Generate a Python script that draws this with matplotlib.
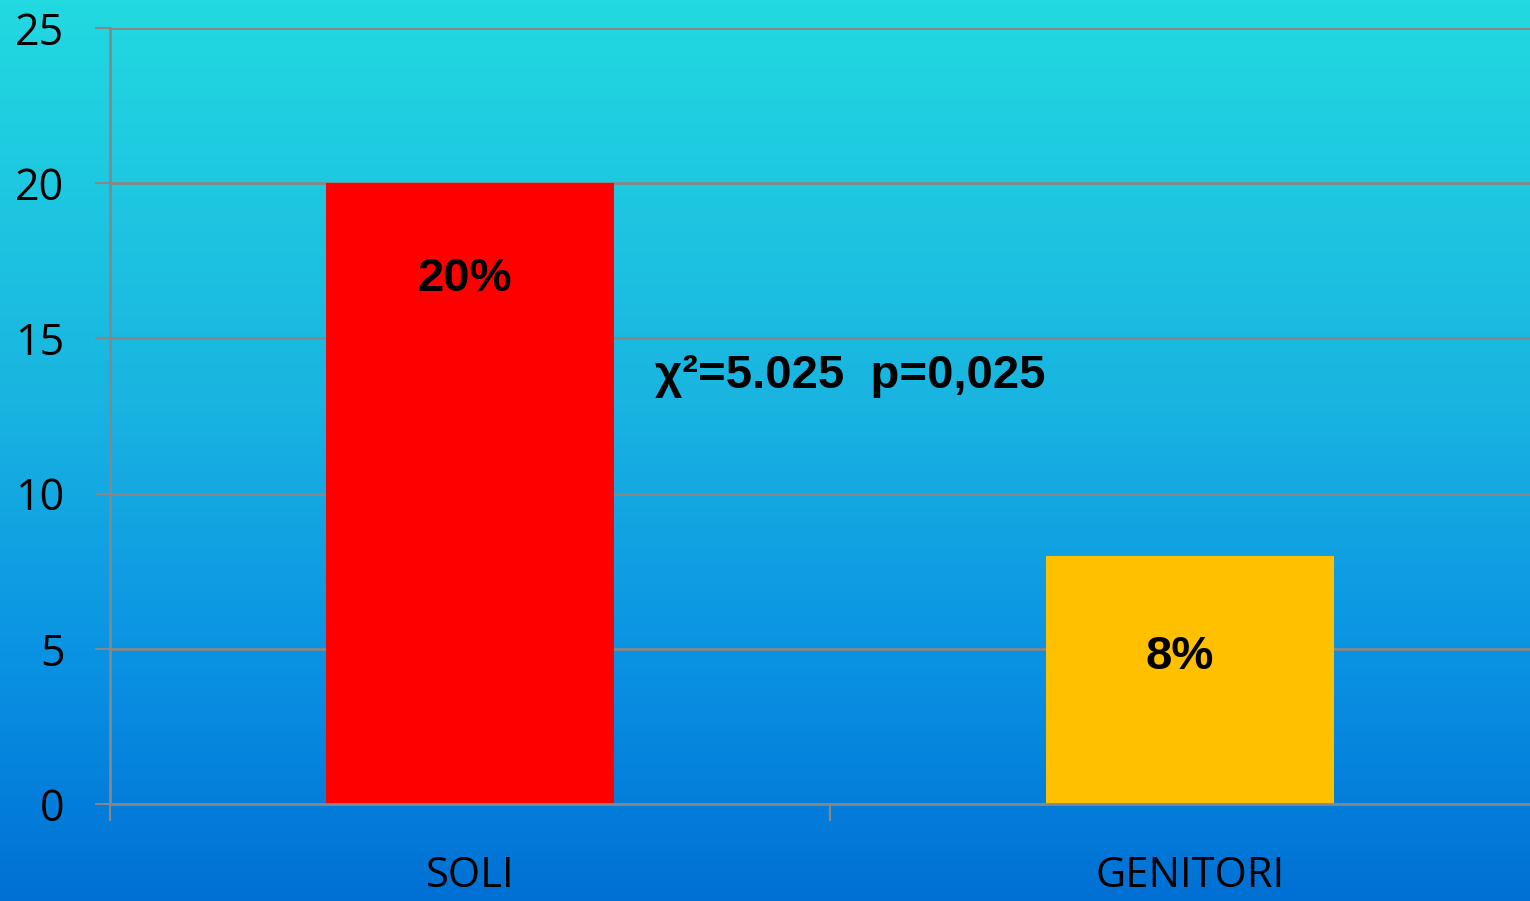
import numpy as np
import matplotlib
matplotlib.use("Agg")
import matplotlib.pyplot as plt
from matplotlib.colors import LinearSegmentedColormap

categories = ["SOLI", "GENITORI"]
values = [20, 8]
bar_labels = ["20%", "8%"]
bar_colors = ["#FF0000", "#FFC000"]
yticks = [0, 5, 10, 15, 20, 25]
annotation = "χ²=5.025  p=0,025"

W, H = 1530, 901
fig = plt.figure(figsize=(W / 100, H / 100), dpi=100)

# background gradient
bg = fig.add_axes([0, 0, 1, 1], zorder=-10)
cmap = LinearSegmentedColormap.from_list(
    "bg", [(0.0, "#22D9E0"), (0.45, "#19B4E1"), (0.75, "#0990E3"), (1.0, "#0070D4")])
grad = np.linspace(0, 1, 256).reshape(-1, 1)
bg.imshow(grad, aspect="auto", cmap=cmap, extent=[0, 1, 0, 1], origin="upper")
bg.set_axis_off()

left = 110 / W
bottom = (H - 804) / H
top = (H - 28) / H
ax = fig.add_axes([left, bottom, 1440 / W, top - bottom])
ax.patch.set_alpha(0)

x = np.arange(len(categories))
ax.bar(x, values, width=0.4, color=bar_colors, zorder=3)
ax.set_xlim(-0.5, len(categories) - 0.5)
ax.set_ylim(0, 25)

grey = "#878787"
ax.set_yticks(yticks)
ax.yaxis.grid(True, color=grey, linewidth=2, zorder=1)
ax.set_axisbelow(True)
for s in ["top", "right"]:
    ax.spines[s].set_visible(False)
for s in ["left", "bottom"]:
    ax.spines[s].set_color(grey)
    ax.spines[s].set_linewidth(2)
    ax.spines[s].set_zorder(4)

ax.tick_params(axis="y", length=10.8, width=1.5, color=grey, pad=22,
               labelsize=31, labelcolor="black")
ax.set_xticks(np.arange(-0.5, len(categories)), labels=[""] * (len(categories) + 1))
ax.tick_params(axis="x", which="major", length=12, width=1.5, color=grey)
ax.set_xticks(x, labels=categories, minor=True)
ax.tick_params(axis="x", which="minor", length=0, pad=37, labelsize=30,
               labelcolor="black")
for lab in ax.get_xticklabels(minor=True) + ax.get_yticklabels():
    lab.set_fontfamily("Open Sans")

label_x_off = [-0.007, -0.015]
label_y = [16.9, 4.73]
for xi, dx, yi, t in zip(x, label_x_off, label_y, bar_labels):
    ax.text(xi + dx, yi, t, ha="center", va="center", fontsize=34,
            fontweight="bold", family="Liberation Sans", color="black", zorder=5)

ax.text(0.257, 13.8, annotation, ha="left", va="center", fontsize=34,
        fontweight="bold", family="Liberation Sans", color="black", zorder=5)

fig.savefig("out.png", dpi=100)
